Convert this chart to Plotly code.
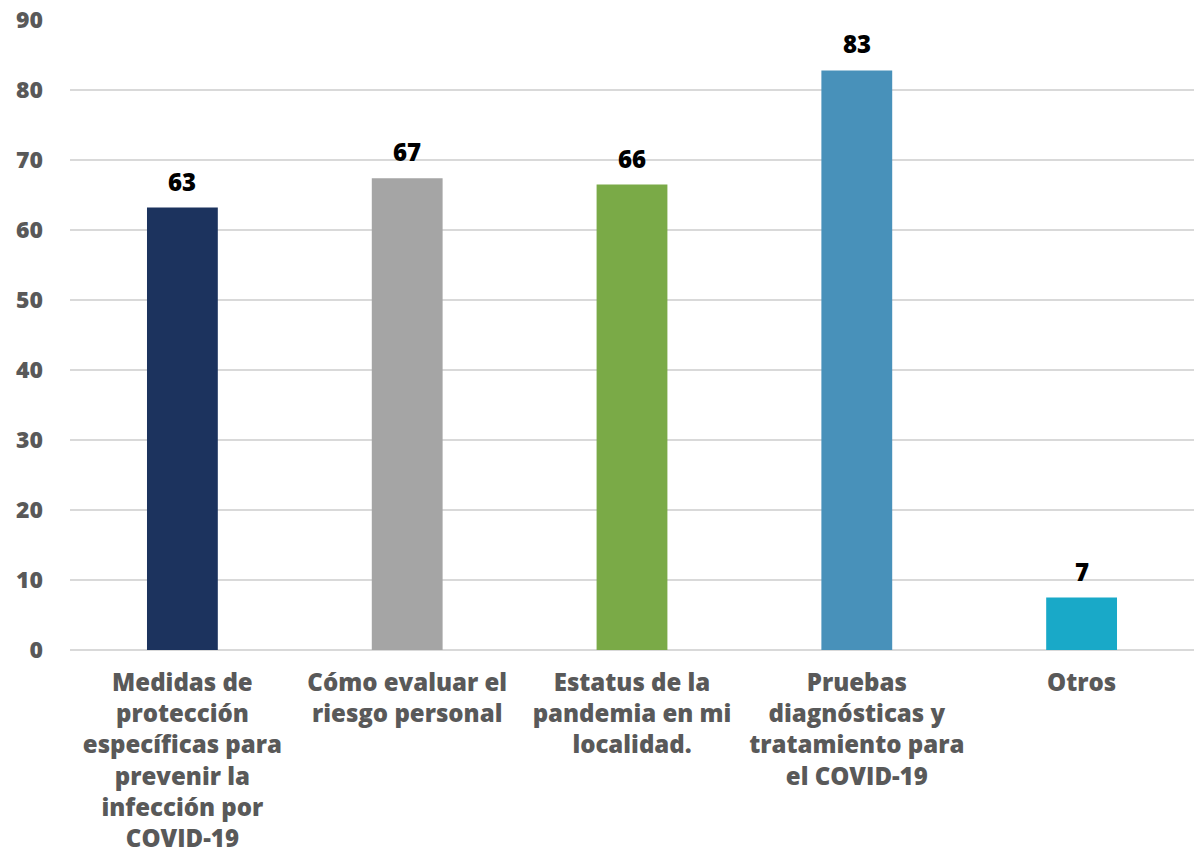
import plotly.graph_objects as go

categories = [
    "Medidas de<br>protección<br>específicas para<br>prevenir la<br>infección por<br>COVID-19",
    "Cómo evaluar el<br>riesgo personal",
    "Estatus de la<br>pandemia en mi<br>localidad.",
    "Pruebas<br>diagnósticas y<br>tratamiento para<br>el COVID-19",
    "Otros",
]
values = [63.2, 67.4, 66.5, 82.8, 7.5]
value_labels = ["63", "67", "66", "83", "7"]
colors = ["#1C335E", "#A5A5A5", "#7AAA47", "#4891BA", "#19A9C8"]
y_ticks = [0, 10, 20, 30, 40, 50, 60, 70, 80, 90]

FONT = "Open Sans"

fig = go.Figure()
fig.add_trace(go.Bar(
    x=categories, y=values, marker=dict(color=colors, line=dict(width=0)),
    width=0.315, hoverinfo="skip",
))
for c, v, t in zip(categories, values, value_labels):
    fig.add_annotation(x=c, y=v, text=t, showarrow=False,
                       yanchor="bottom", yshift=8,
                       font=dict(family=FONT, size=24, color="#000000", weight=800))

fig.update_layout(
    width=1194, height=857,
    margin=dict(l=70, r=0, t=20, b=207),
    paper_bgcolor="white", plot_bgcolor="white",
    showlegend=False,
    font=dict(family=FONT),
)
fig.update_yaxes(
    range=[0, 90], tickvals=y_ticks, ticktext=[str(v) for v in y_ticks],
    showgrid=True, gridcolor="#D9D9D9", gridwidth=1.5,
    zeroline=True, zerolinecolor="#D9D9D9", zerolinewidth=1.5,
    showline=False, ticks="", ticklabelstandoff=26, automargin=False,
    tickfont=dict(family=FONT, size=23, color="#595959", weight=800),
)
fig.update_xaxes(
    showline=False, ticks="", showgrid=False, ticklabelstandoff=16,
    tickfont=dict(family=FONT, size=24, color="#595959", weight=800),
    tickangle=0, automargin=False,
    tickvals=categories, ticktext=categories,
)
fig.write_html("out.html", config={"displayModeBar": False},
               post_script="document.body.style.margin='0';document.body.style.overflow='hidden';")
